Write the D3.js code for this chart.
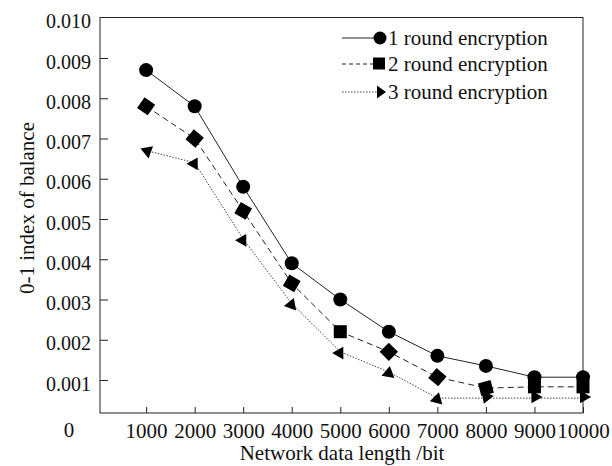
<!DOCTYPE html>
<html>
<head>
<meta charset="utf-8">
<script src="https://cdn.jsdelivr.net/npm/d3@7"></script>
<style>
  html, body { margin: 0; padding: 0; background: #fff; }
  svg { display: block; }
  text { font-family: "Liberation Serif", "Times New Roman", serif; fill: #111; }
</style>
</head>
<body>
<svg id="chart" width="612" height="466"></svg>
<script>
// Network data length (bit)
const lengths = [1000, 2000, 3000, 4000, 5000, 6000, 7000, 8000, 9000, 10000];
const xTickLabels = ["1000", "2000", "3000", "4000", "5000", "6000", "7000", "8000", "9000", "10000"];
const yTicks = [0.001, 0.002, 0.003, 0.004, 0.005, 0.006, 0.007, 0.008, 0.009, 0.010];

// 0-1 index of balance for each number of encryption rounds
const round1 = [0.0087, 0.0078, 0.0058, 0.0039, 0.0030, 0.0022, 0.0016, 0.00135, 0.00107, 0.00107];
const round2 = [0.0078, 0.0070, 0.0052, 0.0034, 0.0022, 0.0017, 0.00107, 0.0008, 0.00083, 0.00083];
const round3 = [0.0067, 0.0064, 0.0045, 0.0029, 0.0017, 0.0012, 0.00055, 0.00055, 0.00055, 0.00055];
const seriesNames = ["1 round encryption", "2 round encryption", "3 round encryption"];

// marker tilt per point (degrees)
const squareTilt = [35, 40, 30, 30, 0, 45, 40, -15, 0, 0];
const triangleTilt = [200, -60, -60, -70, -60, -80, -75, 110, 120, 120];

const svg = d3.select("#chart");
const plotLeft = 100, plotRight = 583, plotTop = 17.5, plotBottom = 413;
const serif = '"Liberation Serif", "Times New Roman", serif';

const x = d3.scaleLinear().domain([50, 10000]).range([plotLeft, plotRight]);
const y = d3.scaleLinear().domain([0.001, 0.009]).range([380, 58]);

// frame
svg.append("rect")
  .attr("x", plotLeft).attr("y", plotTop)
  .attr("width", plotRight - plotLeft).attr("height", plotBottom - plotTop)
  .attr("fill", "none").attr("stroke", "#222").attr("stroke-width", 1);

// y axis
const yAxis = d3.axisLeft(y).tickValues(yTicks).tickSize(-8).tickPadding(9)
  .tickFormat(d3.format(".3f"));
const gy = svg.append("g").attr("transform", `translate(${plotLeft},0)`).call(yAxis);
gy.select(".domain").remove();
gy.selectAll("line").attr("stroke", "#222");
gy.selectAll("text").style("font-size", "20px").attr("dy", "0.5em")
  .style("font-family", serif).attr("fill", "#111");
gy.selectAll(".tick").filter(d => d === 0.010).select("line").remove();

// x axis
const xAxis = d3.axisBottom(x).tickValues(lengths).tickSize(-6).tickPadding(10)
  .tickFormat((d, i) => xTickLabels[i]);
const gx = svg.append("g").attr("transform", `translate(0,${plotBottom})`).call(xAxis);
gx.select(".domain").remove();
gx.selectAll("line").attr("stroke", "#222");
gx.selectAll("text").style("font-size", "21px")
  .style("font-family", serif).attr("fill", "#111");

// origin label
svg.append("text").attr("x", 69).attr("y", 437).attr("text-anchor", "middle")
  .style("font-size", "21px").text("0");

// axis titles
svg.append("text").attr("x", 342).attr("y", 460).attr("text-anchor", "middle")
  .style("font-size", "21px").text("Network data length /bit");
svg.append("text").attr("transform", "translate(34,208) rotate(-90)").attr("text-anchor", "middle")
  .style("font-size", "21px").text("0-1 index of balance");

const line = d3.line().x((d, i) => x(lengths[i])).y(d => y(d));

const styles = [
  { data: round1, dash: null, width: 1, color: "#222" },
  { data: round2, dash: "6,4", width: 1, color: "#222" },
  { data: round3, dash: "1.5,1.5", width: 1, color: "#444" }
];

styles.forEach(s => {
  svg.append("path").datum(s.data).attr("d", line)
    .attr("fill", "none").attr("stroke", s.color)
    .attr("stroke-width", s.width).attr("stroke-dasharray", s.dash);
});

const triPath = "M6,0 L-5,-6.5 L-5,6.5 Z";
const sq = 13;

// round 3 markers (triangles)
svg.append("g").selectAll("path").data(round3).join("path")
  .attr("d", triPath)
  .attr("transform", (d, i) => `translate(${x(lengths[i])},${y(d)}) rotate(${triangleTilt[i]})`)
  .attr("fill", "#000");

// round 2 markers (squares)
svg.append("g").selectAll("rect").data(round2).join("rect")
  .attr("x", -sq / 2).attr("y", -sq / 2).attr("width", sq).attr("height", sq)
  .attr("transform", (d, i) => `translate(${x(lengths[i])},${y(d)}) rotate(${squareTilt[i]})`)
  .attr("fill", "#000");

// round 1 markers (circles)
svg.append("g").selectAll("circle").data(round1).join("circle")
  .attr("cx", (d, i) => x(lengths[i])).attr("cy", d => y(d)).attr("r", 7)
  .attr("fill", "#000");

// legend
const legend = svg.append("g");
const rows = [38, 64, 92];
seriesNames.forEach((name, i) => {
  const ry = rows[i];
  legend.append("line").attr("x1", 342).attr("x2", 378).attr("y1", ry).attr("y2", ry)
    .attr("stroke", styles[i].color).attr("stroke-width", 1)
    .attr("stroke-dasharray", i === 1 ? "4,3" : styles[i].dash);
  if (i === 0) {
    legend.append("circle").attr("cx", 380).attr("cy", ry).attr("r", 6.5).attr("fill", "#000");
  } else if (i === 1) {
    legend.append("rect").attr("x", 373).attr("y", ry - 6.5).attr("width", 12).attr("height", 12).attr("fill", "#000");
  } else {
    legend.append("path").attr("d", "M6,0 L-3,-6.5 L-3,6.5 Z")
      .attr("transform", `translate(380,${ry})`).attr("fill", "#000");
  }
  legend.append("text").attr("x", 388).attr("y", ry).attr("dy", "0.35em")
    .style("font-size", "21px").text(name);
});
</script>
</body>
</html>
